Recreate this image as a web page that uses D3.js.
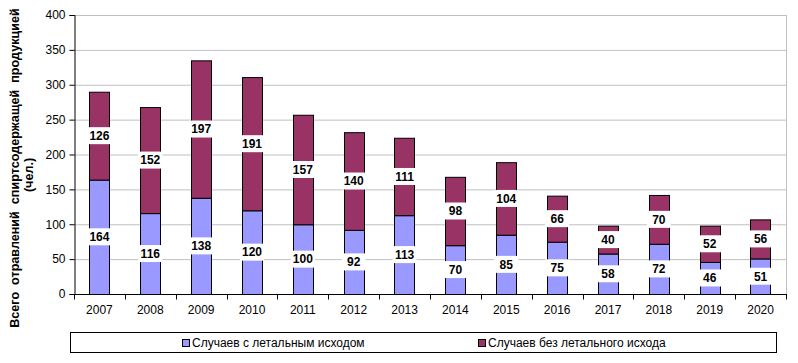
<!DOCTYPE html>
<html>
<head>
<meta charset="utf-8">
<script src="https://cdn.jsdelivr.net/npm/d3@7"></script>
<style>
  body { margin: 0; background: #fff; }
  text { font-family: "Liberation Sans", Arial, sans-serif; }
</style>
</head>
<body>
<div id="chart"></div>
<script>
// data
var years = ["2007","2008","2009","2010","2011","2012","2013","2014","2015","2016","2017","2018","2019","2020"];
var lethal = [164,116,138,120,100,92,113,70,85,75,58,72,46,51];
var nonLethal = [126,152,197,191,157,140,111,98,104,66,40,70,52,56];
var yTicks = [0,50,100,150,200,250,300,350,400];
var seriesNames = ["Случаев с летальным исходом", "Случаев без летального исхода"];
var seriesColors = ["#9999ff", "#993366"];

var W = 798, H = 363;
var margin = {top: 15, right: 12, bottom: 69, left: 74},
    width = W - margin.left - margin.right,
    height = H - margin.top - margin.bottom;

var svg = d3.select("#chart").append("svg")
    .attr("width", W)
    .attr("height", H);

var g = svg.append("g")
    .attr("transform", "translate(" + margin.left + "," + margin.top + ")");

var x = d3.scaleBand().domain(years).range([0, width]).paddingInner(0.6).paddingOuter(0.3);
var xb = d3.scaleBand().domain(years).range([0, width]);
var y = d3.scaleLinear().domain([0, 400]).range([height, 0]);

// gridlines
g.selectAll(".grid")
  .data(yTicks.slice(1))
  .enter().append("line")
    .attr("x1", 0).attr("x2", width)
    .attr("y1", function(d) { return y(d) + 0.5; })
    .attr("y2", function(d) { return y(d) + 0.5; })
    .attr("stroke", "#c0c0c0");

// right border of the plot
g.append("line")
    .attr("x1", width + 0.5).attr("x2", width + 0.5)
    .attr("y1", 0).attr("y2", height)
    .attr("stroke", "#c0c0c0");

var stackData = years.map(function(yr, i) {
  return {year: yr, a: lethal[i], b: nonLethal[i]};
});
var stack = d3.stack().keys(["a", "b"]);
var layers = stack(stackData);

var layer = g.selectAll(".layer")
  .data(layers)
  .enter().append("g")
    .attr("fill", function(d, i) { return seriesColors[i]; });

layer.selectAll("rect")
  .data(function(d) { return d; })
  .enter().append("rect")
    .attr("x", function(d) { return Math.round(x(d.data.year)) + 0.5; })
    .attr("y", function(d) { return y(d[1]) + 0.5; })
    .attr("width", Math.round(x.bandwidth()))
    .attr("height", function(d) { return y(d[0]) - y(d[1]); })
    .attr("stroke", "#000")
    .attr("stroke-width", 1);

// value labels
layer.each(function(L) {
  var lg = d3.select(this).selectAll(".lbl")
    .data(L)
    .enter().append("g")
      .attr("transform", function(d) {
        var cx = x(d.data.year) + x.bandwidth() / 2;
        var cy = y((d[0] + d[1]) / 2);
        return "translate(" + cx + "," + cy + ")";
      });
  lg.append("rect")
      .attr("x", -12).attr("y", -8.5)
      .attr("width", 24).attr("height", 17)
      .attr("fill", "#fff");
  lg.append("text")
      .attr("text-anchor", "middle")
      .attr("dy", "0.36em")
      .attr("font-size", "12px")
      .attr("font-weight", "bold")
      .attr("fill", "#000")
      .text(function(d) { return d[1] - d[0]; });
});

// y axis
var yAxis = g.append("g")
    .attr("transform", "translate(0.5,0)")
    .call(d3.axisLeft(y).tickValues(yTicks).tickSize(5).tickPadding(4));
yAxis.selectAll("text").attr("font-size", "12px").attr("fill", "#000");
yAxis.selectAll("line,path").attr("stroke", "#000");

// x axis with ticks between categories
var xAxis = g.append("g").attr("transform", "translate(0," + (height + 0.5) + ")");
xAxis.append("line").attr("x1", 0).attr("x2", width + 1).attr("stroke", "#000");
xAxis.selectAll(".tk")
  .data(years.concat(["end"]))
  .enter().append("line")
    .attr("x1", function(d, i) { return Math.round(i * xb.bandwidth()) + 0.5; })
    .attr("x2", function(d, i) { return Math.round(i * xb.bandwidth()) + 0.5; })
    .attr("y1", 0).attr("y2", 5)
    .attr("stroke", "#000");
xAxis.selectAll(".yl")
  .data(years)
  .enter().append("text")
    .attr("x", function(d) { return xb(d) + xb.bandwidth() / 2; })
    .attr("y", 19)
    .attr("text-anchor", "middle")
    .attr("font-size", "12px")
    .attr("fill", "#000")
    .text(function(d) { return d; });

// y axis title
var yt = svg.append("text")
    .attr("transform", "translate(19,168) rotate(-90)")
    .attr("text-anchor", "middle")
    .attr("font-size", "12.6px")
    .attr("font-weight", "bold")
    .attr("fill", "#000");
yt.append("tspan").attr("x", 0).attr("y", 0)
    .attr("xml:space", "preserve")
    .text("Всего  отравлений  спиртсодержащей  продукцией");
yt.append("tspan").attr("x", -7).attr("y", 14).text("(чел.)");

// legend
var leg = svg.append("g");
leg.append("rect")
    .attr("x", 70.5).attr("y", 332.5)
    .attr("width", 706).attr("height", 20)
    .attr("fill", "#fff").attr("stroke", "#000");
var legX = [182, 478];
seriesNames.forEach(function(name, i) {
  leg.append("rect")
      .attr("x", legX[i] + 0.5).attr("y", 339.5)
      .attr("width", 7).attr("height", 7)
      .attr("fill", seriesColors[i]).attr("stroke", "#000");
  leg.append("text")
      .attr("x", legX[i] + 10).attr("y", 347)
      .attr("font-size", "12px")
      .attr("fill", "#000")
      .text(name);
});
</script>
</body>
</html>
